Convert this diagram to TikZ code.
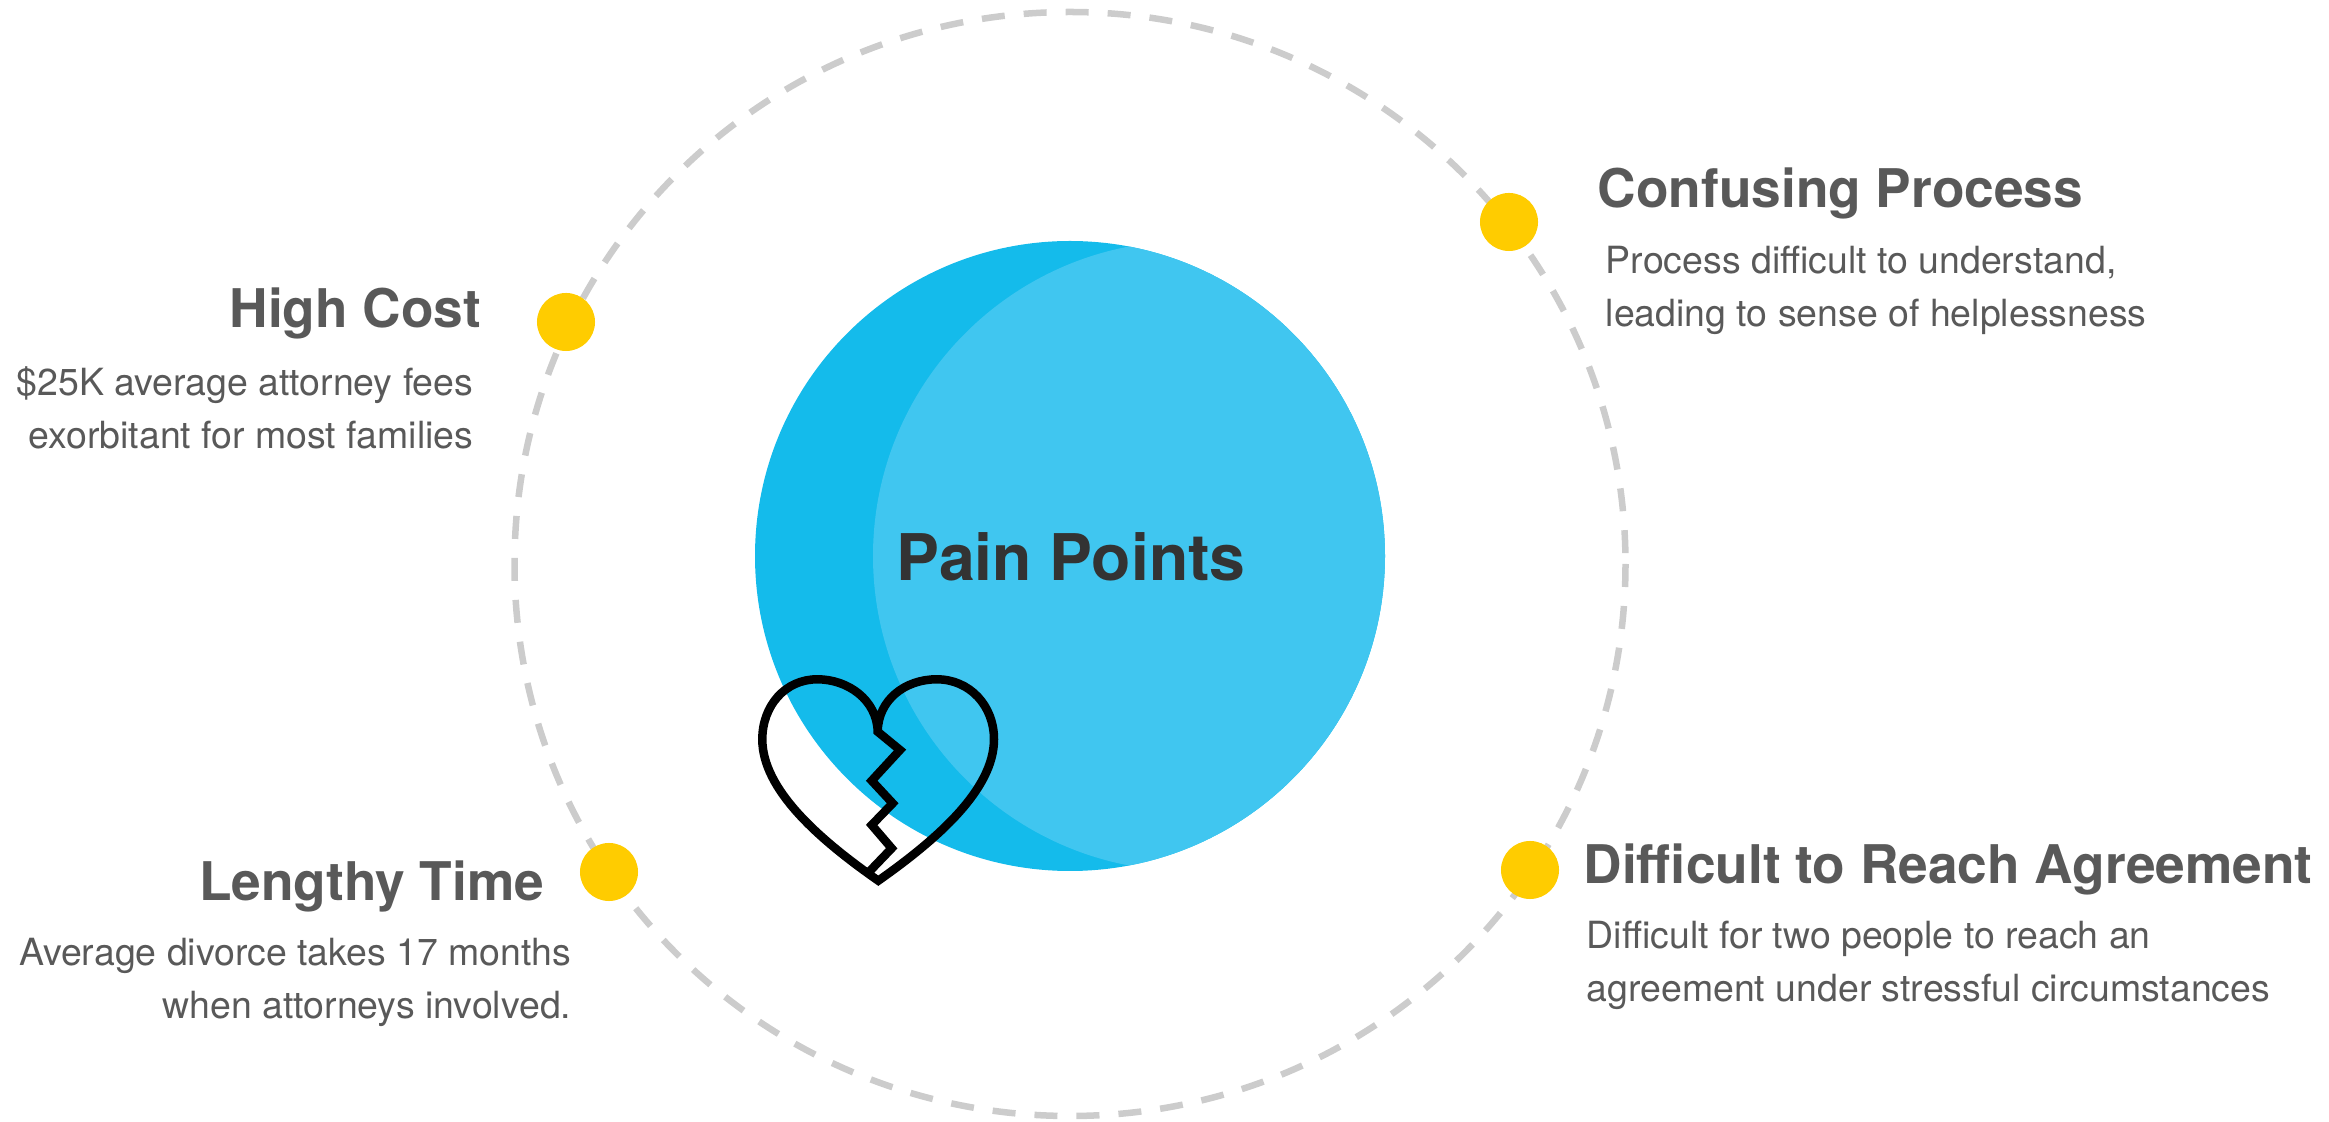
\documentclass[tikz,border=0pt]{standalone}
\usepackage{fontspec}
\setmainfont{TeX Gyre Heros}
\definecolor{deepblue}{HTML}{14BBEB}
\definecolor{paleblue}{HTML}{40C6F0}
\definecolor{dotyellow}{HTML}{FFCC00}
\definecolor{ringgray}{HTML}{CCCCCC}
\definecolor{headgray}{HTML}{595959}
\begin{document}
\begin{tikzpicture}
		[x=0.01cm,y=-0.01cm,
		dot/.style={circle,minimum size=0.58cm,inner sep=0pt,fill=dotyellow},
		head/.style={inner sep=0pt,text=headgray,font=\fontsize{15.15}{18}\selectfont\bfseries},
		body/.style={inner sep=0pt,text=headgray,font=\fontsize{10.65}{15.2}\selectfont}]

		\useasboundingbox (0,0) rectangle (2329,1122);

		\draw [ringgray,line width=0.065cm,dash pattern=on 0.23cm off 0.19cm] (1070,564) ellipse [x radius=555.5,y radius=552];

		\fill [deepblue] (1070,556) circle [radius=315];
		\begin{scope}
			\clip (1070,556) circle [radius=315];
			\fill [paleblue] (1188,556) circle [radius=315];
		\end{scope}

		% broken heart
		\draw [black,line width=0.085cm,miter limit=4]
			(877.7,731.7) .. controls (877,700) and (848,679.3) .. (817.3,679.3)
			.. controls (785,679.3) and (762.3,706) .. (762.3,739.3)
			.. controls (762.3,790) and (820,840) .. (878.3,880.7)
			.. controls (936,840) and (994,790) .. (994,739.3)
			.. controls (994,706) and (970,679.3) .. (936.7,679.3)
			.. controls (905,679.3) and (878,700) .. (877.7,731.7)
			-- (900,750) -- (871.7,780.7) -- (892.7,803.3) -- (871.7,825) -- (891.7,848.3) -- (868.3,872.7);

		\node[inner sep=0pt,text=black!80,font=\fontsize{18.3}{22}\selectfont\bfseries] (title) at (1071,557) {Pain Points};

		\node[dot] (d1) at (566,322) {};
		\node[dot] (d2) at (1509,222) {};
		\node[dot] (d3) at (609,872) {};
		\node[dot] (d4) at (1530,870) {};

		\node[head,anchor=base east] (h1) at (482,328) {High Cost};
		\node[body,anchor=north east,align=right] (b1) at (474,366) {\$25K average attorney fees\\exorbitant for most families};

		\node[head,anchor=base west] (h2) at (1597,208) {Confusing Process};
		\node[body,anchor=north west,align=left] (b2) at (1605,245) {Process difficult to understand,\\leading to sense of helplessness};

		\node[head,anchor=base east] (h3) at (545,901) {Lengthy Time};
		\node[body,anchor=north east,align=right] (b3) at (572,937) {Average divorce takes 17 months\\when attorneys involved.};

		\node[head,anchor=base west] (h4) at (1583,884) {Difficult to Reach Agreement};
		\node[body,anchor=north west,align=left] (b4) at (1586,920) {Difficult for two people to reach an\\agreement under stressful circumstances};
\end{tikzpicture}
\end{document}
